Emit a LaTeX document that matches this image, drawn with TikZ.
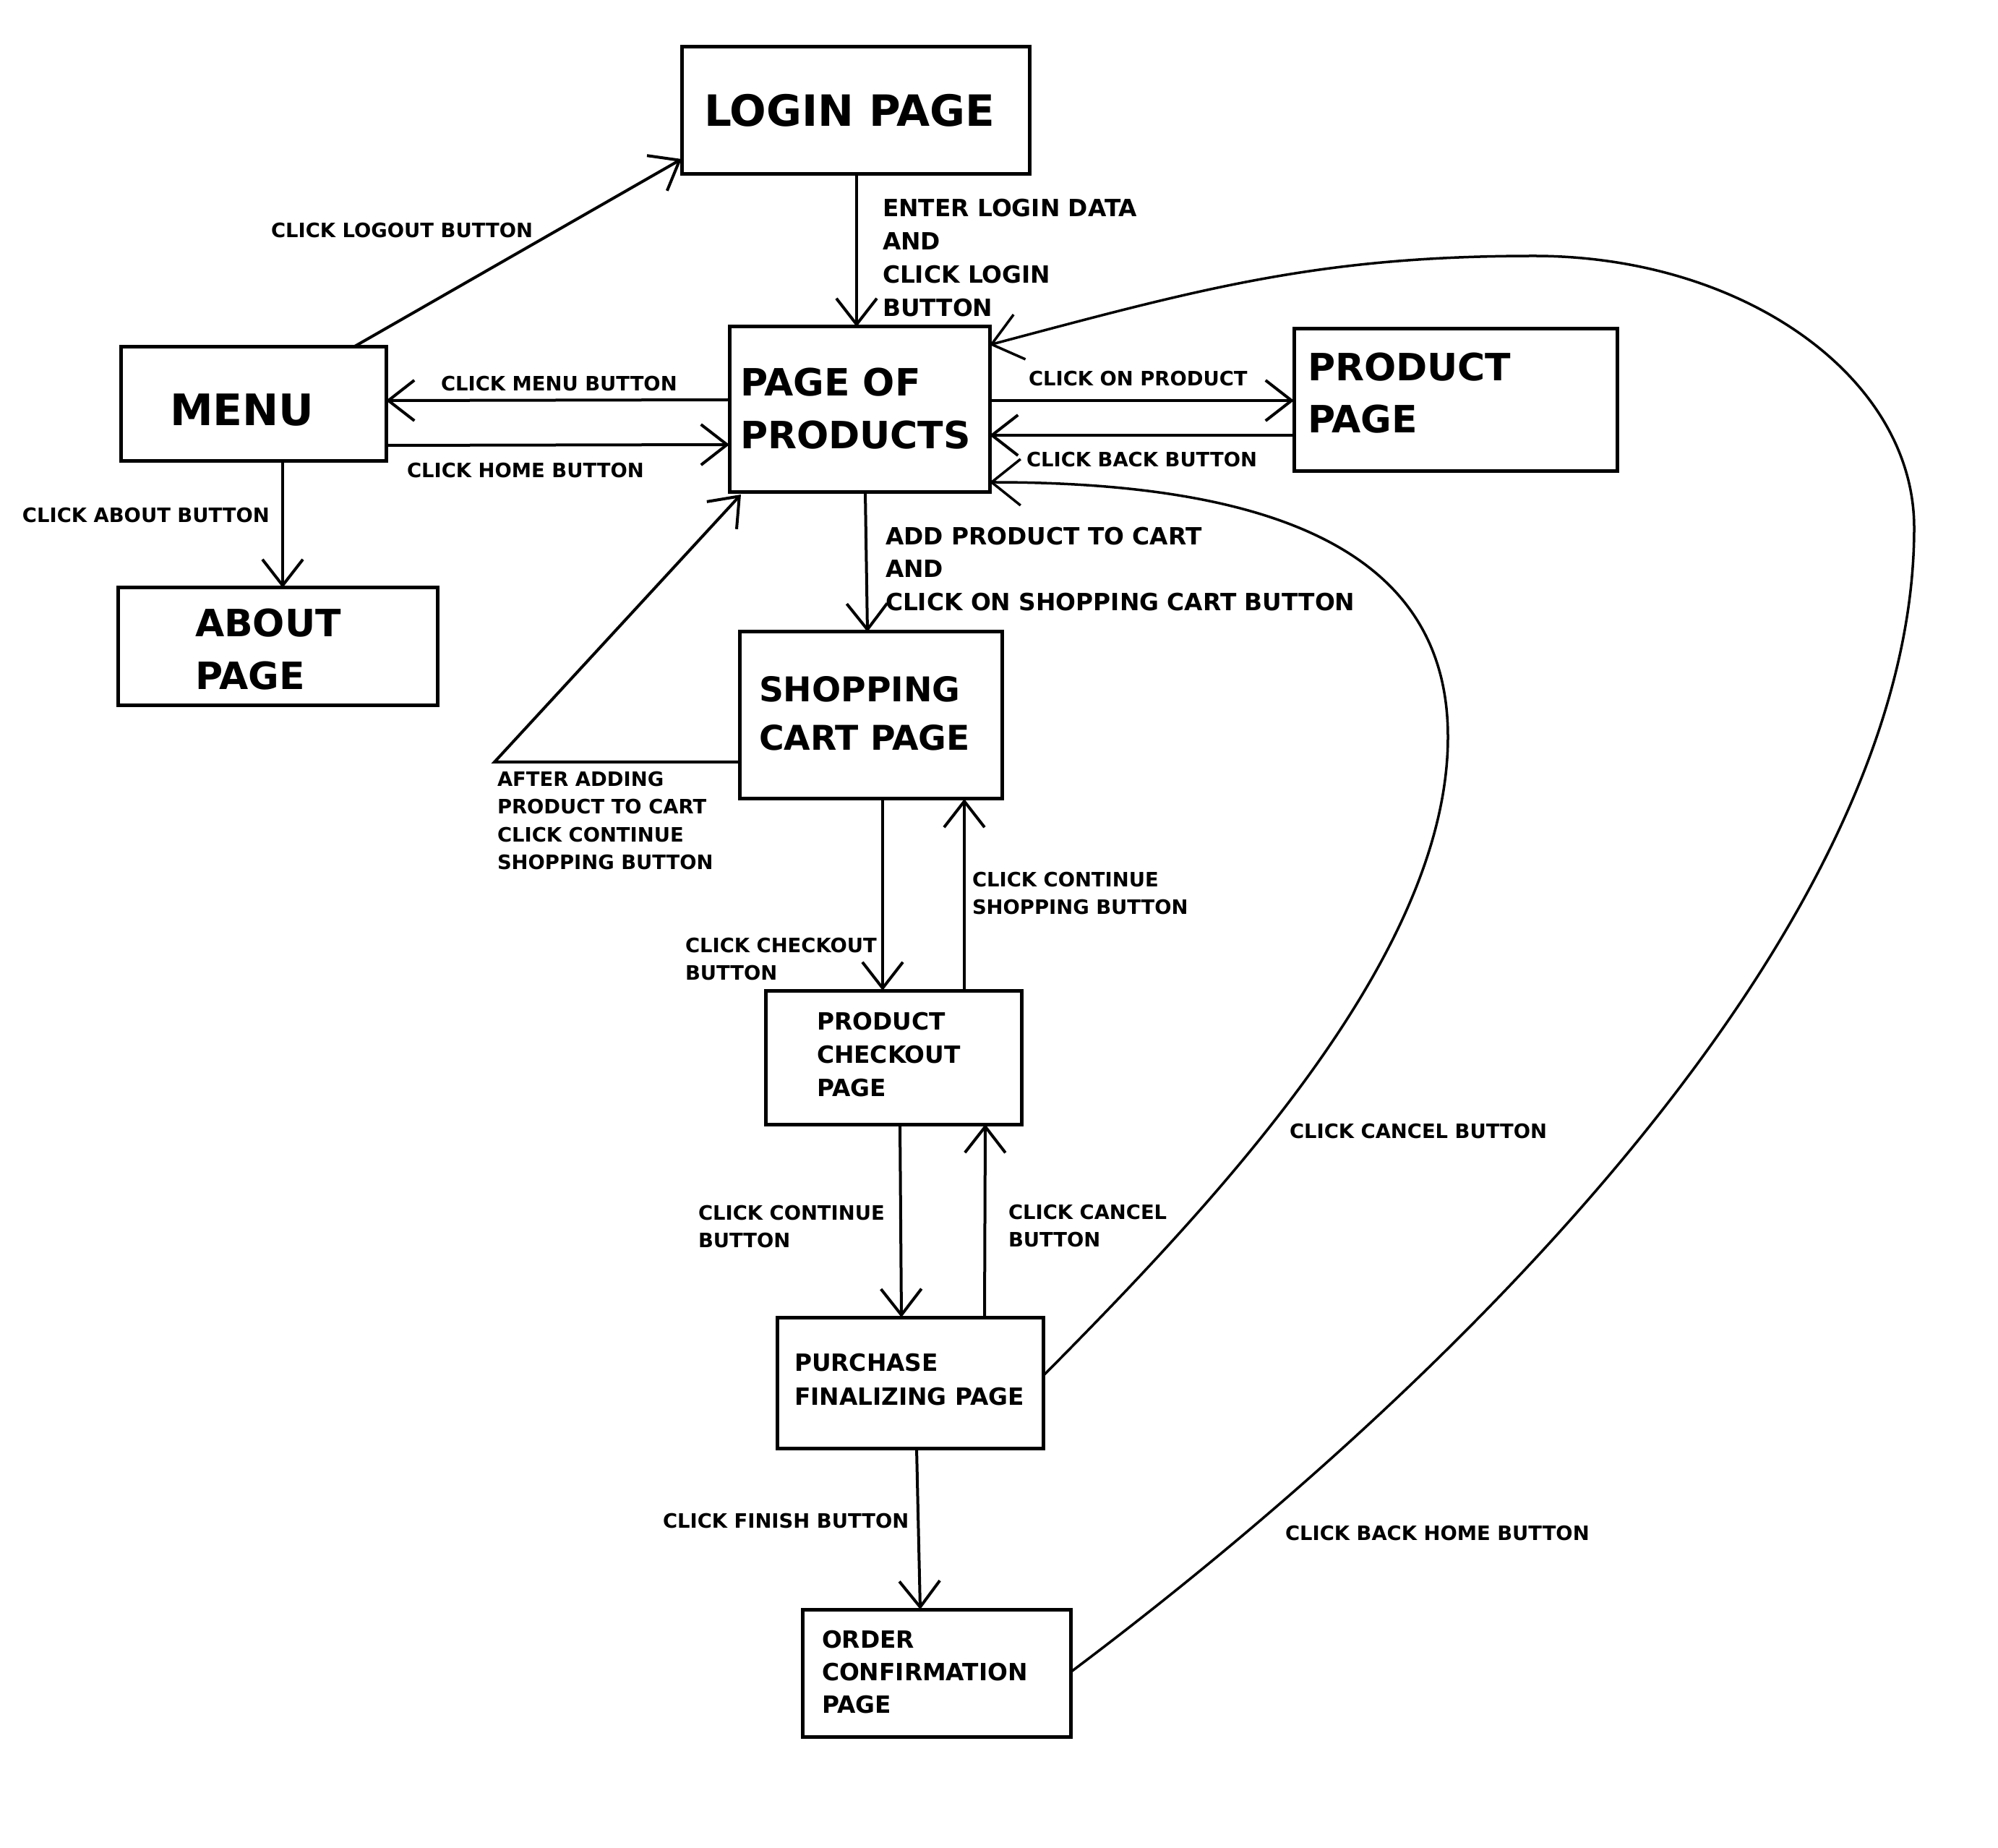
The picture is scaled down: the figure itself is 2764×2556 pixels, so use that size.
\documentclass[tikz,border=0pt]{standalone}
\usepackage{fontspec}
\setmainfont{DejaVu Sans}
\usetikzlibrary{arrows.meta}
\tikzset{
  box/.style={draw, line width=1.25pt, anchor=north west, inner sep=0pt, outer sep=0pt},
  conn/.style={line width=1pt, -{Straight Barb[length=9pt, width=14pt]}},
  curv/.style={line width=0.875pt, -{Straight Barb[length=10pt, width=16pt]}},
  txt/.style={anchor=north west, inner sep=0pt, outer sep=0pt, align=left},
  fs/.style 2 args={font=\bfseries\fontsize{#1}{#2}\selectfont},
  small/.style={txt, fs={6.85pt}{9.6pt}},
  mid/.style={txt, fs={8.2pt}{11.5pt}}
}
\begin{document}
\begin{tikzpicture}[x=0.25pt, y=-0.25pt]
\fill[white] (0,0) rectangle (2764,2556);
\useasboundingbox (0,0) rectangle (2764,2556);

% boxes
\node[box, minimum width=120.25pt, minimum height=44pt] (login) at (943,65) {};
\node[box, minimum width=90pt, minimum height=57.25pt] (products) at (1009,452) {};
\node[box, minimum width=91.75pt, minimum height=39.5pt] (menu) at (167,480) {};
\node[box, minimum width=110.5pt, minimum height=40.75pt] (about) at (163,813) {};
\node[box, minimum width=111.75pt, minimum height=49.25pt] (ppage) at (1790,455) {};
\node[box, minimum width=90.75pt, minimum height=57.75pt] (shop) at (1023,874) {};
\node[box, minimum width=88.5pt, minimum height=46.25pt] (check) at (1059,1370) {};
\node[box, minimum width=92pt, minimum height=45.25pt] (purch) at (1075,1822) {};
\node[box, minimum width=92.75pt, minimum height=44pt] (order) at (1110,2226) {};

% box titles
\node[txt, fs={14.9pt}{18pt}] (loginT) at (974,130) {LOGIN PAGE};
\node[txt, fs={13pt}{18.25pt}] (productsT) at (1024,509) {PAGE OF\\PRODUCTS};
\node[txt, fs={15pt}{18pt}] (menuT) at (235,545) {MENU};
\node[txt, fs={13pt}{18.25pt}] (aboutT) at (270,842) {ABOUT\\PAGE};
\node[txt, fs={13pt}{18pt}] (ppageT) at (1809,488) {PRODUCT\\PAGE};
\node[txt, fs={11.8pt}{16.75pt}] (shopT) at (1050,935) {SHOPPING\\CART PAGE};
\node[mid] (checkT) at (1130,1400) {PRODUCT\\CHECKOUT\\PAGE};
\node[txt, fs={8.2pt}{11.75pt}] (purchT) at (1099,1872) {PURCHASE\\FINALIZING PAGE};
\node[txt, fs={8.2pt}{11.25pt}] (orderT) at (1137,2255) {ORDER\\CONFIRMATION\\PAGE};

% edge labels
\node[mid] (lLogin) at (1221,275) {ENTER LOGIN DATA\\AND\\CLICK LOGIN\\BUTTON};
\node[txt, fs={8.2pt}{11.4pt}] (lAdd) at (1225,729) {ADD PRODUCT TO CART\\AND\\CLICK ON SHOPPING CART BUTTON};
\node[small] (lLogout) at (375,308) {CLICK LOGOUT BUTTON};
\node[small] (lMenu) at (610,520) {CLICK MENU BUTTON};
\node[small] (lHome) at (563,640) {CLICK HOME BUTTON};
\node[small] (lAbout) at (31,702) {CLICK ABOUT BUTTON};
\node[small] (lProd) at (1423,513) {CLICK ON PRODUCT};
\node[small] (lBack) at (1420,625) {CLICK BACK BUTTON};
\node[small] (lAfter) at (688,1067) {AFTER ADDING\\PRODUCT TO CART\\CLICK CONTINUE\\SHOPPING BUTTON};
\node[small] (lCont) at (1345,1206) {CLICK CONTINUE\\SHOPPING BUTTON};
\node[small] (lCheck) at (948,1297) {CLICK CHECKOUT\\BUTTON};
\node[small] (lContB) at (966,1667) {CLICK CONTINUE\\BUTTON};
\node[small] (lCancel) at (1395,1666) {CLICK CANCEL\\BUTTON};
\node[small] (lCancelC) at (1784,1554) {CLICK CANCEL BUTTON};
\node[small] (lFinish) at (917,2093) {CLICK FINISH BUTTON};
\node[small] (lHomeC) at (1778,2110) {CLICK BACK HOME BUTTON};

% straight connectors
\draw[conn] ([shift={(322,0)}]menu.north west) -- ([shift={(0,155)}]login.north west);
\draw[conn] ([shift={(242,176)}]login.north west) -- ([shift={(176,0)}]products.north west);
\draw[conn] ([shift={(0,101)}]products.north west) -- ([shift={(367,74)}]menu.north west);
\draw[conn] ([shift={(367,136)}]menu.north west) -- ([shift={(0,163)}]products.north west);
\draw[conn] ([shift={(224,158)}]menu.north west) -- ([shift={(228,0)}]about.north west);
\draw[conn] ([shift={(360,102)}]products.north west) -- ([shift={(0,99)}]ppage.north west);
\draw[conn] ([shift={(0,147)}]ppage.north west) -- ([shift={(360,150)}]products.north west);
\draw[conn] ([shift={(188,229)}]products.north west) -- ([shift={(177,0)}]shop.north west);
\coordinate (bend) at (684,1054);
\draw[conn] ([shift={(0,180)}]shop.north west) -- (bend) -- ([shift={(16,232)}]products.north west);
\draw[conn] ([shift={(198,231)}]shop.north west) -- ([shift={(162,0)}]check.north west);
\draw[conn] ([shift={(275,0)}]check.north west) -- ([shift={(311,231)}]shop.north west);
\draw[conn] ([shift={(186,185)}]check.north west) -- ([shift={(172,0)}]purch.north west);
\draw[conn] ([shift={(287,0)}]purch.north west) -- ([shift={(304,185)}]check.north west);
\draw[conn] ([shift={(193,181)}]purch.north west) -- ([shift={(163,0)}]order.north west);

% curved connectors
\coordinate (cIn) at ([shift={(368,81)}]purch.north west);
\coordinate (cInR) at (2003,1019);
\coordinate (cInE) at ([shift={(360,215)}]products.north west);
\draw[curv] (cIn) .. controls (1690,1654) and (2003,1319) .. (cInR)
                  .. controls (2003,775) and (1785,667) .. (cInE);
\coordinate (cOut) at ([shift={(372,86)}]order.north west);
\coordinate (cOutR) at (2648,730);
\coordinate (cOutT) at (2122,354);
\coordinate (cOutE) at ([shift={(360,25)}]products.north west);
\draw[curv] (cOut) .. controls (2002,1922) and (2648,1290) .. (cOutR)
                   .. controls (2648,522) and (2412,354) .. (cOutT)
                   .. controls (1822,354) and (1659,400) .. (cOutE);
\end{tikzpicture}
\end{document}
